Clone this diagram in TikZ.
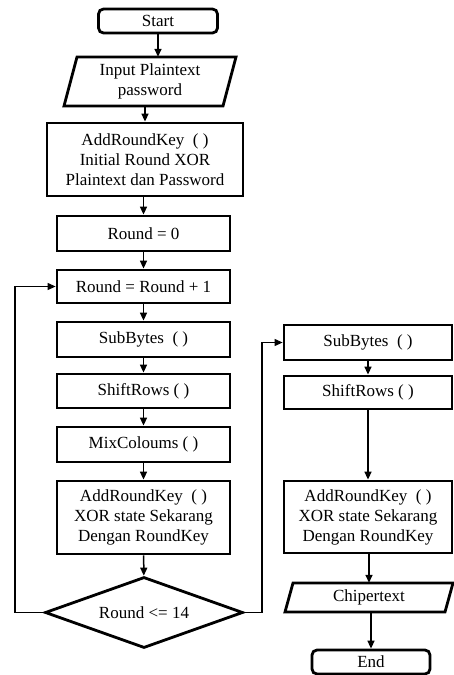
\documentclass[tikz,border=0pt]{standalone}
\usepackage{fontspec}
\setmainfont{Liberation Serif}
\usetikzlibrary{arrows.meta,shapes.geometric}
\begin{document}
\begin{tikzpicture}[x=1pt,y=-1pt,
  txt/.style={font=\fontsize{17}{20}\selectfont, align=center, inner sep=0pt},
  box/.style={txt, draw, line width=2.8pt, minimum width=173pt, minimum height=34pt},
  bigbox/.style={box, minimum height=73pt},
  term/.style={txt, draw, line width=2.8pt, rounded corners=5pt, minimum width=119pt, minimum height=24pt},
  pg/.style={line width=2.8pt, line join=miter},
  dec/.style={txt, draw, diamond, aspect=2.79, line width=2.8pt, minimum width=198pt, minimum height=71pt},
  arr/.style={line width=1.5pt, -{Triangle[length=8pt,width=7pt]}},
  loop/.style={line width=1.1pt, -{Triangle[length=8pt,width=7pt]}}
]
\useasboundingbox (0,0) rectangle (454,675);
% left column
\node[term] (start) at (158,21) {Start};
\node[txt, minimum width=160pt, minimum height=49pt] (inp) at (150,81.5) {Input Plaintext\\password};
\draw[pg, shift={(inp.center)}] (-73,-24.5) -- (86,-24.5) -- (73,24.5) -- (-86,24.5) -- cycle;
\node[box, minimum width=196pt, minimum height=73pt] (ark1) at (145,159.5) {AddRoundKey\ \ ( )\\Initial Round XOR\\Plaintext dan Password};
\node[box, minimum height=35pt] (r0) at (143.5,233.5) {Round = 0};
\node[box, minimum height=33pt] (rinc) at (143.5,286.5) {Round = Round + 1};
\node[box, minimum height=35pt] (sb) at (143.5,339.5) {SubBytes\ \ ( )};
\node[box] (sr) at (143.5,391) {ShiftRows ( )};
\node[box, minimum height=35pt] (mc) at (143.5,444.5) {MixColoums ( )};
\node[bigbox] (ark2) at (143.5,517.5) {AddRoundKey\ \ ( )\\XOR state Sekarang\\Dengan RoundKey};
\node[dec] (d) at (144,612.5) {Round <= 14};
% right column
\node[box, minimum width=168pt, minimum height=35pt] (sb2) at (368,342.5) {SubBytes\ \ ( )};
\node[box, minimum width=168pt, minimum height=33pt] (sr2) at (368,392.5) {ShiftRows ( )};
\node[bigbox, minimum width=168pt, minimum height=72pt] (ark3) at (368,517) {AddRoundKey\ \ ( )\\XOR state Sekarang\\Dengan RoundKey};
\node[txt, minimum width=152pt, minimum height=29pt] (ct) at (369,597.5) {Chipertext};
\draw[pg, shift={(ct.center)}] (-76,-14.5) -- (84,-14.5) -- (76,14.5) -- (-84,14.5) -- cycle;
\node[term, minimum width=118pt] (end) at (371,662) {End};
% connectors
\draw[arr] (start.south) -- (start.south |- inp.north);
\draw[arr] (inp.south -| ark1) -- (ark1.north);
\draw[arr] (ark1.south -| r0) -- (r0.north);
\draw[arr] (r0) -- (rinc);
\draw[arr] (rinc) -- (sb);
\draw[arr] (sb) -- (sr);
\draw[arr] (sr) -- (mc);
\draw[arr] (mc) -- (ark2);
\draw[arr] (ark2) -- (d);
\coordinate (lp) at (15,612.5);
\coordinate (rp) at (262,612.5);
\draw[loop] (d.west) -- (lp) |- (rinc.west);
\draw[loop] (d.east) -- (rp) |- (sb2.west);
\draw[arr] (sb2) -- (sr2);
\draw[arr] (sr2) -- (ark3);
\draw[arr] (ark3.south -| ct) -- (ct.north);
\draw[arr] (ct.south -| end) -- (end.north);
\end{tikzpicture}
\end{document}
